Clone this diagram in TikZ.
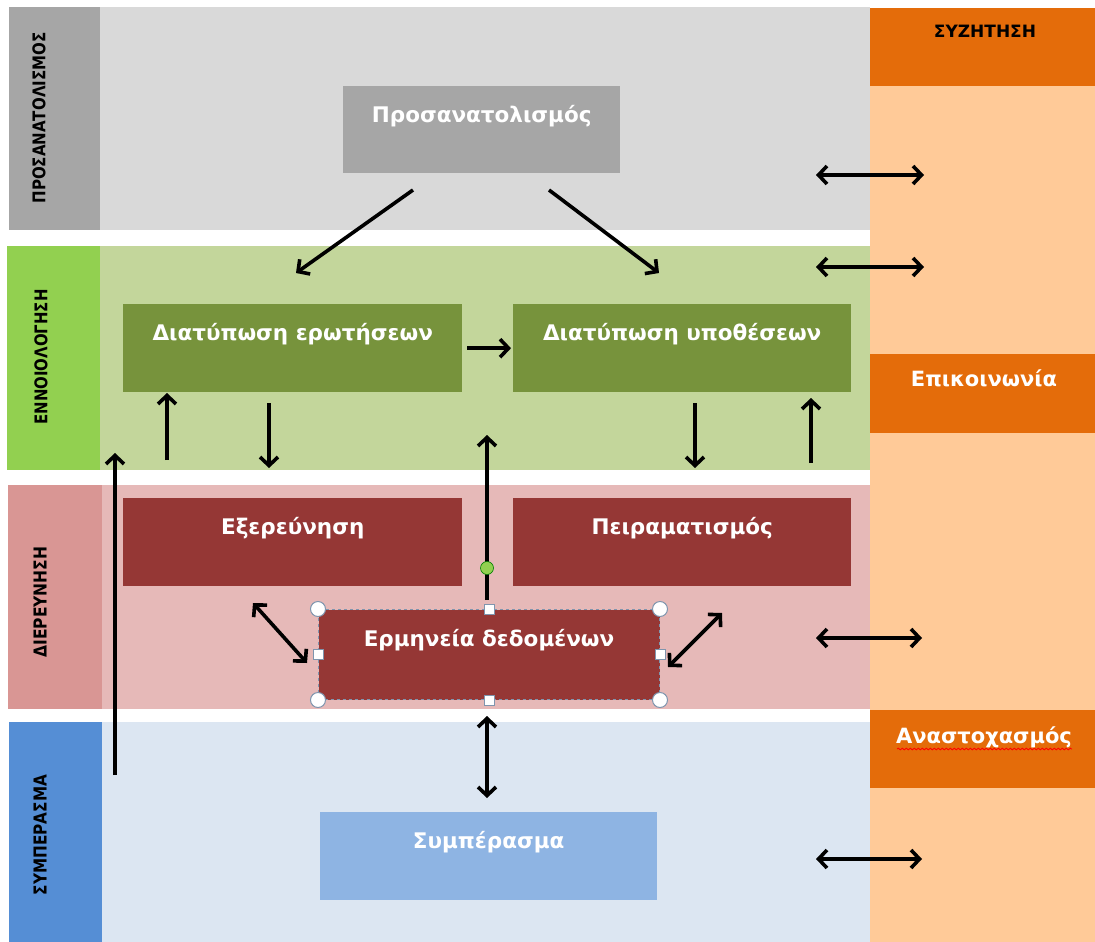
\documentclass[tikz,border=0pt]{standalone}
\usepackage{fontspec}
\setmainfont{DejaVu Sans}
\usetikzlibrary{arrows.meta,decorations.pathmorphing}
\definecolor{grayband}{HTML}{D9D9D9}
\definecolor{graylbl}{HTML}{A6A6A6}
\definecolor{greenband}{HTML}{C3D69B}
\definecolor{greenlbl}{HTML}{92D050}
\definecolor{greenbox}{HTML}{77933C}
\definecolor{redband}{HTML}{E6B9B8}
\definecolor{redlbl}{HTML}{D99694}
\definecolor{redbox}{HTML}{953735}
\definecolor{blueband}{HTML}{DCE6F2}
\definecolor{bluelbl}{HTML}{558ED5}
\definecolor{bluebox}{HTML}{8EB4E3}
\definecolor{peach}{HTML}{FFCA98}
\definecolor{orangebox}{HTML}{E46C0A}
\definecolor{handle}{HTML}{7F95AE}
\begin{document}
\begin{tikzpicture}[x=1pt,y=-1pt,
  area/.style={draw=none,inner sep=0pt,anchor=north west},
  sidelbl/.style={draw=none,inner sep=0pt,rotate=90},
  boxnode/.style={draw=none,inner sep=0pt,anchor=north west,text=white,
    font=\bfseries\fontsize{21.5}{25}\selectfont,text height=36.5pt},
  orangelbl/.style={area,fill=orangebox,minimum width=225pt,minimum height=78pt},
  arr/.style={line width=3.6pt,-{Straight Barb[length=8.5pt,width=18pt]}},
  darr/.style={line width=3.6pt,{Straight Barb[length=8.5pt,width=18pt]}-{Straight Barb[length=8.5pt,width=18pt]}},
  sqh/.style={draw=handle,fill=white,line width=1pt,minimum size=10pt,inner sep=0pt},
  cih/.style={draw=handle,fill=white,line width=1pt,circle,minimum size=15pt,inner sep=0pt}]
\useasboundingbox (0,0) rectangle (1095,942);
\fill[white] (0,0) rectangle (1095,942);

% right column
\node[area,fill=peach,minimum width=225pt,minimum height=934pt] (col) at (870,8) {};
\node[orangelbl] (o1) at (870,8) {};
\node[anchor=base,inner sep=0pt,font=\bfseries\fontsize{17}{20}\selectfont] (t1) at (985,38) {ΣΥΖΗΤΗΣΗ};
\node[orangelbl,minimum height=79pt] (o2) at (870,354) {};
\node[anchor=base,inner sep=0pt,text=white,font=\bfseries\fontsize{21}{24}\selectfont] (t2) at (984,386) {Επικοινωνία};
\node[orangelbl] (o3) at (870,710) {};
\node[anchor=base,inner sep=0pt,text=white,font=\bfseries\fontsize{21}{24}\selectfont] (t3) at (984,743) {Αναστοχασμός};
\draw[red,line width=0.8pt,decorate,decoration={snake,amplitude=0.9pt,segment length=4pt}] (897,749) -- (1072,749);

% bands
\node[area,fill=grayband,minimum width=770pt,minimum height=223pt] (b1) at (100,7) {};
\node[area,fill=graylbl,minimum width=91pt,minimum height=223pt] (l1) at (9,7) {};
\node[area,fill=greenband,minimum width=770pt,minimum height=224pt] (b2) at (100,246) {};
\node[area,fill=greenlbl,minimum width=93pt,minimum height=224pt] (l2) at (7,246) {};
\node[area,fill=redband,minimum width=768pt,minimum height=224pt] (b3) at (102,485) {};
\node[area,fill=redlbl,minimum width=94pt,minimum height=224pt] (l3) at (8,485) {};
\node[area,fill=blueband,minimum width=768pt,minimum height=220pt] (b4) at (102,722) {};
\node[area,fill=bluelbl,minimum width=93pt,minimum height=220pt] (l4) at (9,722) {};

% side labels
\node[sidelbl] (s1) at (39,118) {\resizebox{171pt}{13pt}{\bfseries ΠΡΟΣΑΝΑΤΟΛΙΣΜΟΣ}};
\node[sidelbl] (s2) at (41,357) {\resizebox{135pt}{13pt}{\bfseries ΕΝΝΟΙΟΛΟΓΗΣΗ}};
\node[sidelbl] (s3) at (40,602) {\resizebox{111pt}{13pt}{\bfseries ΔΙΕΡΕΥΝΗΣΗ}};
\node[sidelbl] (s4) at (40,835) {\resizebox{120pt}{13pt}{\bfseries ΣΥΜΠΕΡΑΣΜΑ}};

% boxes
\node[boxnode,fill=graylbl,minimum width=277pt,text depth=50.5pt] (p) at (343,86) {Προσανατολισμός};
\node[boxnode,fill=greenbox,minimum width=339pt,text depth=51.5pt] (q) at (123,304) {Διατύπωση ερωτήσεων};
\node[boxnode,fill=greenbox,minimum width=338pt,text depth=51.5pt] (h) at (513,304) {Διατύπωση υποθέσεων};
\node[boxnode,fill=redbox,minimum width=339pt,text depth=51.5pt] (e) at (123,498) {Εξερεύνηση};
\node[boxnode,fill=redbox,minimum width=338pt,text depth=51.5pt] (x) at (513,498) {Πειραματισμός};
\node[boxnode,fill=redbox,minimum width=341pt,text depth=53.5pt,draw=handle,dashed,line width=1pt] (d) at (318,609) {Ερμηνεία δεδομένων};
\node[boxnode,fill=bluebox,minimum width=337pt,text depth=51pt] (c) at (320,812) {Συμπέρασμα};

% arrow end points
\coordinate (a1s) at (413,190); \coordinate (a1e) at (296,273);
\coordinate (a2s) at (549,190); \coordinate (a2e) at (659,273);
\coordinate (a4s) at (167,460); \coordinate (a4e) at (167,393);
\coordinate (a5s) at (269,403); \coordinate (a5e) at (269,468);
\coordinate (a6s) at (695,403); \coordinate (a6e) at (695,468);
\coordinate (a7s) at (811,463); \coordinate (a7e) at (811,398);
\coordinate (a8s) at (115,775); \coordinate (a8e) at (115,453);
\coordinate (a9s) at (487,600); \coordinate (a9e) at (487,435);
\coordinate (d1s) at (816,175); \coordinate (d1e) at (924,175);
\coordinate (d2s) at (816,267); \coordinate (d2e) at (924,267);
\coordinate (d3s) at (816,638); \coordinate (d3e) at (922,638);
\coordinate (d4s) at (816,859); \coordinate (d4e) at (922,859);
\coordinate (d5s) at (253,603); \coordinate (d5e) at (307,663);
\coordinate (d6s) at (722,613); \coordinate (d6e) at (668,667);
\coordinate (d7s) at (487,716); \coordinate (d7e) at (487,798);

\draw[arr] (a1s) -- (a1e);
\draw[arr] (a2s) -- (a2e);
\draw[arr] ([xshift=5pt]q.east) -- ([xshift=-2pt]h.west);
\draw[arr] (a4s) -- (a4e);
\draw[arr] (a5s) -- (a5e);
\draw[arr] (a6s) -- (a6e);
\draw[arr] (a7s) -- (a7e);
\draw[arr] (a8s) -- (a8e);
\draw[arr] (a9s) -- (a9e);
\draw[darr] (d1s) -- (d1e);
\draw[darr] (d2s) -- (d2e);
\draw[darr] (d3s) -- (d3e);
\draw[darr] (d4s) -- (d4e);
\draw[darr] (d5s) -- (d5e);
\draw[darr] (d6s) -- (d6e);
\draw[darr] (d7s) -- (d7e);

% selection handles
\node[circle,fill=greenlbl,draw=green!50!black,line width=0.6pt,minimum size=13pt,inner sep=0pt] (rot) at (487,568) {};
\node[cih] (h1) at (d.north west) {};
\node[cih] (h2) at (d.north east) {};
\node[cih] (h3) at (d.south west) {};
\node[cih] (h4) at (d.south east) {};
\node[sqh] (h5) at (d.north) {};
\node[sqh] (h6) at (d.south) {};
\node[sqh] (h7) at (d.west) {};
\node[sqh] (h8) at (d.east) {};
\end{tikzpicture}
\end{document}
